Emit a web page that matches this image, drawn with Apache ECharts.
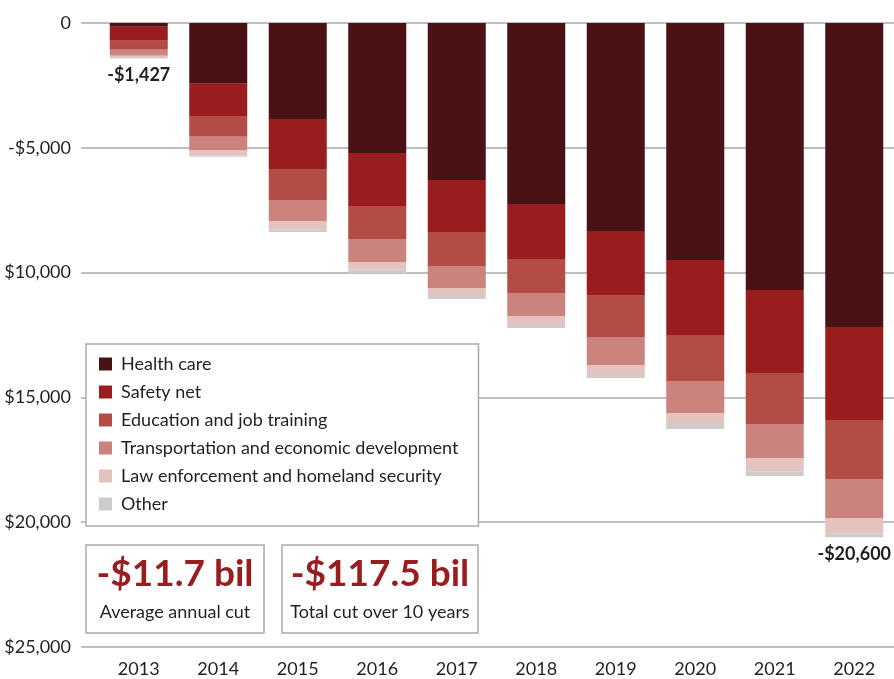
<!DOCTYPE html>
<html>
<head>
<meta charset="utf-8">
<script src="https://cdn.jsdelivr.net/npm/echarts@6/dist/echarts.min.js"></script>
<style>
html,body{margin:0;padding:0;background:#fff;}
#main{width:894px;height:679px;}
</style>
</head>
<body>
<div id="main"></div>
<script>
const categories = ['2013','2014','2015','2016','2017','2018','2019','2020','2021','2022'];
const healthCare   = [-150, -2430, -3846, -5210, -6290, -7250, -8333, -9495, -10700, -12180];
const safetyNet    = [-560, -1300, -2004, -2120, -2080, -2205, -2592, -3005, -3320, -3725];
const education    = [-360, -825, -1240, -1320, -1365, -1365, -1655, -1840, -2050, -2365];
const transport    = [-240, -535, -840, -925, -885, -920, -1120, -1285, -1360, -1560];
const lawEnforce   = [-100, -210, -340, -300, -320, -360, -400, -445, -530, -620];
const other        = [-17, -60, -100, -155, -120, -120, -120, -200, -190, -150];
const seriesNames  = ['Health care','Safety net','Education and job training','Transportation and economic development','Law enforcement and homeland security','Other'];
const seriesColors = ['#4a1214','#991c1f','#b24c44','#cb847d','#e4c3bf','#cccccc'];
const yTickValues  = [0, -5000, -10000, -15000, -20000, -25000];
const yTickLabels  = ['0', '-$5,000', '$10,000', '$15,000', '$20,000', '$25,000'];
const labeledBars  = [0, 9];
const summaryValues   = ['-$11.7 bil', '-$117.5 bil'];
const summaryCaptions = ['Average annual cut', 'Total cut over 10 years'];

const FONT = 'Lato';
const allSeries = [healthCare, safetyNet, education, transport, lawEnforce, other];
const totals = categories.map((c, i) => allSeries.reduce((s, arr) => s + arr[i], 0));
function fmtTotal(v) {
  return '-$' + Math.abs(Math.round(v)).toLocaleString('en-US');
}

const series = allSeries.map((arr, si) => ({
  name: seriesNames[si],
  type: 'bar',
  stack: 'total',
  xAxisIndex: 1,
  yAxisIndex: 1,
  barWidth: 58,
  itemStyle: { color: seriesColors[si] },
  data: arr.map((v, i) => {
    if (si === allSeries.length - 1 && labeledBars.indexOf(i) >= 0) {
      return {
        value: v,
        label: {
          show: true,
          position: 'bottom',
          distance: 8,
          formatter: () => fmtTotal(totals[i]),
          fontFamily: FONT,
          fontWeight: 'bold',
          fontSize: 18,
          color: '#231f20'
        }
      };
    }
    return v;
  })
}));

const chart = echarts.init(document.getElementById('main'), null, { renderer: 'canvas' });

const boxes = [
  { x: 86, w: 178 },
  { x: 282, w: 196 }
];
const graphics = [];
boxes.forEach((b, k) => {
  graphics.push({
    type: 'rect',
    shape: { x: b.x, y: 545, width: b.w, height: 88 },
    style: { fill: '#fff', stroke: '#aaaaaa', lineWidth: 1.5 },
    z: 10
  });
  graphics.push({
    type: 'text',
    x: b.x + b.w / 2, y: 574,
    style: {
      text: summaryValues[k], fill: '#991c1f', font: 'bold 37px ' + FONT,
      align: 'center', verticalAlign: 'middle'
    },
    z: 11
  });
  graphics.push({
    type: 'text',
    x: b.x + b.w / 2, y: 612,
    style: {
      text: summaryCaptions[k], fill: '#231f20', font: '18px ' + FONT,
      align: 'center', verticalAlign: 'middle'
    },
    z: 11
  });
});

chart.setOption({
  animation: false,
  backgroundColor: '#fff',
  grid: [
    { left: 81, right: 0, top: 23, bottom: 32 },
    { left: 99, right: -2, top: 23, bottom: 32 }
  ],
  legend: {
    orient: 'vertical',
    left: 86,
    top: 344,
    data: seriesNames,
    itemWidth: 13,
    itemHeight: 13,
    itemGap: 8,
    padding: [10, 20, 12, 13],
    icon: 'rect',
    backgroundColor: '#fff',
    borderColor: '#aaaaaa',
    borderWidth: 1.5,
    borderRadius: 0,
    textStyle: { fontFamily: FONT, fontSize: 18, color: '#231f20', lineHeight: 20, padding: [0, 0, 0, 4] },
    z: 10
  },
  xAxis: [
    { gridIndex: 0, type: 'value', min: 0, max: 1, show: false },
    {
      gridIndex: 1, type: 'category', data: categories, position: 'bottom',
      axisLine: { show: false }, axisTick: { show: false },
      axisLabel: { fontFamily: FONT, fontSize: 18, color: '#231f20', margin: 13 }
    }
  ],
  yAxis: [
    {
      gridIndex: 0, type: 'value', min: -25000, max: 0, interval: 5000,
      axisLine: { show: false }, axisTick: { show: false },
      splitLine: { show: true, lineStyle: { color: '#aaaaaa', width: 1.5 } },
      axisLabel: {
        fontFamily: FONT, fontSize: 18, color: '#231f20', margin: 10,
        formatter: v => {
          const idx = yTickValues.indexOf(v);
          return idx >= 0 ? yTickLabels[idx] : '';
        }
      }
    },
    {
      gridIndex: 1, type: 'value', min: -25000, max: 0, interval: 5000,
      show: false, splitLine: { show: false }
    }
  ],
  series: series,
  graphic: graphics
});
</script>
</body>
</html>
